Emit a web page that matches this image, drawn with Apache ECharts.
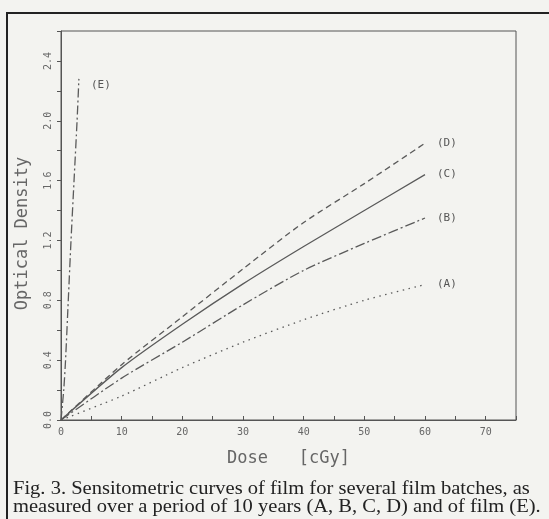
<!DOCTYPE html>
<html>
<head>
<meta charset="utf-8">
<script src="https://cdn.jsdelivr.net/npm/echarts@6/dist/echarts.min.js"></script>
<style>
  html, body { margin: 0; padding: 0; background: #f3f3f0; }
  #frame { position: absolute; left: 6px; top: 12px; width: 560px; height: 520px;
           border-left: 2px solid #222; border-top: 2px solid #222; }
  #chart { position: absolute; left: 0; top: 0; width: 549px; height: 519px; }
</style>
</head>
<body>
<div id="frame"></div>
<div id="chart"></div>
<script>
// dose [cGy] for the four batches
const doses = [0, 10, 20, 30, 40, 50, 60];
const batchA = [0, 0.16, 0.35, 0.52, 0.67, 0.80, 0.905];
const batchB = [0, 0.28, 0.52, 0.77, 1.00, 1.18, 1.35];
const batchC = [0, 0.35, 0.64, 0.91, 1.16, 1.40, 1.64];
const batchD = [0, 0.37, 0.69, 1.01, 1.32, 1.58, 1.85];
// film E
const dosesE = [0, 0.45, 0.75, 1.2, 1.65, 2.15, 2.65, 2.95];
const filmE = [0, 0.2, 0.4, 0.8, 1.2, 1.6, 2.0, 2.28];

const xTicks = [0, 10, 20, 30, 40, 50, 60, 70];
const yTicks = [0, 0.4, 0.8, 1.2, 1.6, 2.0, 2.4];

const plotFont = 'DejaVu Sans Mono';
const lineColor = '#5a5a5a';

function pairs(xs, ys) {
    return xs.map(function (x, i) { return [x, ys[i]]; });
}

function curve(name, xs, ys, dash, labelOffset) {
    return {
        name: name,
        type: 'line',
        data: pairs(xs, ys),
        smooth: 0.25,
        showSymbol: false,
        lineStyle: { color: lineColor, width: 1.3, type: dash },
        endLabel: {
            show: true,
            formatter: '(' + name + ')',
            fontFamily: plotFont,
            fontSize: 11,
            color: '#555',
            distance: 12,
            offset: labelOffset || [0, 0]
        },
        animation: false
    };
}

const myChart = echarts.init(document.getElementById('chart'));
const option = {
    backgroundColor: 'transparent',
    animation: false,
    grid: {
        left: 61, top: 31, right: 33, bottom: 99,
        show: true, borderColor: '#555', borderWidth: 1
    },
    xAxis: {
        type: 'value',
        min: 0, max: 75, interval: 10,
        name: 'Dose   [cGy]',
        nameLocation: 'middle',
        nameGap: 30,
        nameTextStyle: { fontFamily: plotFont, fontSize: 17, color: '#666' },
        axisLine: { show: true, lineStyle: { color: '#555', width: 1 } },
        axisTick: { show: true, inside: true, length: 4, lineStyle: { color: '#555' } },
        minorTick: { show: true, splitNumber: 2, length: 4, lineStyle: { color: '#555' } },
        splitLine: { show: false },
        axisLabel: {
            fontFamily: plotFont, fontSize: 10, color: '#666', margin: 7,
            showMaxLabel: false,
            formatter: function (v) { return xTicks.indexOf(v) >= 0 ? String(v) : ''; }
        }
    },
    yAxis: {
        type: 'value',
        min: 0, max: 2.6, interval: 0.4,
        name: 'Optical Density',
        nameLocation: 'middle',
        nameGap: 30,
        nameTextStyle: { fontFamily: plotFont, fontSize: 17, color: '#666', padding: [0, 16, 0, 0] },
        axisLine: { show: true, lineStyle: { color: '#555', width: 1 } },
        axisTick: { show: true, inside: false, length: 4, lineStyle: { color: '#555' } },
        minorTick: { show: true, splitNumber: 2, length: 4, lineStyle: { color: '#555' } },
        splitLine: { show: false },
        axisLabel: {
            fontFamily: plotFont, fontSize: 10, color: '#666', margin: 8, rotate: 90,
            showMaxLabel: false,
            formatter: function (v) {
                const hit = yTicks.some(function (t) { return Math.abs(t - v) < 1e-6; });
                return hit ? v.toFixed(1) : '';
            }
        }
    },
    series: [
        curve('A', doses, batchA, [1.5, 4.5]),
        curve('B', doses, batchB, [10, 3, 2, 3]),
        curve('C', doses, batchC, 'solid'),
        curve('D', doses, batchD, [6, 4]),
        curve('E', dosesE, filmE, [9, 3, 2, 3], [0, 6])
    ],
    graphic: [
        {
            type: 'text', x: 13, y: 480, scaleX: 1.08,
            style: {
                text: 'Fig. 3. Sensitometric curves of film for several film batches, as\nmeasured over a period of 10 years (A, B, C, D) and of film (E).',
                fontFamily: 'Liberation Serif', fontSize: 19, lineHeight: 18, fill: '#222'
            }
        }
    ]
};

myChart.setOption(option);
</script>
</body>
</html>
